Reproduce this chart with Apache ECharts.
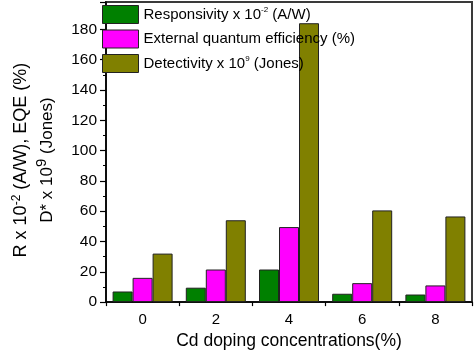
<!DOCTYPE html>
<html>
<head>
<meta charset="utf-8">
<script src="https://cdn.jsdelivr.net/npm/echarts@6/dist/echarts.min.js"></script>
<style>
html,body{margin:0;padding:0;background:#fff;}
#c{width:474px;height:355px;}
</style>
</head>
<body>
<div id="c"></div>
<script>
var categories = ['0', '2', '4', '6', '8'];
var responsivity = [7, 9.5, 21.5, 5.5, 5];
var eqe = [16, 21.5, 49.5, 12.5, 11];
var detectivity = [32, 54, 184, 60.5, 56.5];
var seriesNames = ['Responsivity x 10-2 (A/W)', 'External quantum efficiency (%)', 'Detectivity x 109 (Jones)'];
var legendLabels = [
  '{t|Responsivity x 10}{s|-2}{t| (A/W)}',
  '{t|External quantum efficiency (%)}',
  '{t|Detectivity x 10}{s|9}{t| (Jones)}'
];
var yTickStep = 20;
var yMax = 198;

var FONT = '"Liberation Sans", Arial, sans-serif';
var chart = echarts.init(document.getElementById('c'), null, {renderer: 'canvas'});
var colors = ['#008000', '#ff00ff', '#808000'];
var values = [responsivity, eqe, detectivity];

chart.setOption({
  animation: false,
  backgroundColor: '#fff',
  textStyle: {fontFamily: FONT},
  grid: {left: 98, right: 2, top: 2, bottom: 48, show: true, borderColor: '#3a3a3a', borderWidth: 2, backgroundColor: 'transparent'},
  legend: {
    orient: 'vertical', left: 102, top: 5, padding: 0,
    itemWidth: 36, itemHeight: 18, itemGap: 5.5, icon: 'rect',
    data: seriesNames,
    itemStyle: {borderColor: '#222', borderWidth: 1},
    formatter: function (n) { return legendLabels[seriesNames.indexOf(n)]; },
    textStyle: {
      fontFamily: FONT, color: '#000',
      rich: {
        t: {fontSize: 15, fontFamily: FONT, color: '#000'},
        s: {fontSize: 8, fontFamily: FONT, color: '#000', padding: [0, 0, 9, 0]}
      }
    }
  },
  xAxis: [{
    type: 'category', data: categories,
    name: 'Cd doping concentrations(%)', nameLocation: 'middle', nameGap: 26,
    nameTextStyle: {fontSize: 17.5, color: '#000', fontFamily: FONT},
    axisLine: {lineStyle: {color: '#000', width: 1.5}},
    axisTick: {alignWithLabel: true, length: 5, lineStyle: {color: '#000', width: 1.2}},
    axisLabel: {fontSize: 15, color: '#000', margin: 10, fontFamily: FONT},
    splitLine: {show: false}
  }, {
    type: 'category', data: categories, position: 'bottom',
    axisLine: {show: false},
    axisTick: {show: true, length: 4, lineStyle: {color: '#000', width: 1.2}},
    axisLabel: {show: false},
    splitLine: {show: false}
  }],
  yAxis: {
    type: 'value', min: 0, max: yMax, interval: yTickStep,
    name: '{a|R x 10}{sa|-2}{a| (A/W), EQE (%)}\n{b|D* x 10}{sb|9}{b| (Jones)}',
    nameLocation: 'middle', nameRotate: 90, nameGap: 46,
    nameTextStyle: {
      color: '#000', fontFamily: FONT, lineHeight: 26, padding: [0, 16, 0, 0],
      rich: {
        a: {fontSize: 18, fontFamily: FONT, color: '#000', lineHeight: 26},
        sa: {fontSize: 12, fontFamily: FONT, color: '#000', padding: [0, 0, 9, 0]},
        b: {fontSize: 17, fontFamily: FONT, color: '#000', lineHeight: 26},
        sb: {fontSize: 15, fontFamily: FONT, color: '#000', padding: [0, 0, 10, 0]}
      }
    },
    axisLine: {show: true, lineStyle: {color: '#000', width: 1.5}},
    axisTick: {show: true, length: 6, lineStyle: {color: '#000', width: 1.2}},
    minorTick: {show: true, splitNumber: 2, length: 3, lineStyle: {color: '#000', width: 1}},
    axisLabel: {fontSize: 15.5, color: '#000', margin: 9, showMaxLabel: false, fontFamily: FONT},
    splitLine: {show: false},
    minorSplitLine: {show: false}
  },
  series: seriesNames.map(function (n, i) {
    return {
      name: n, type: 'bar', data: values[i], barWidth: 20, barGap: '0%',
      itemStyle: {color: colors[i], borderColor: '#222', borderWidth: 1}
    };
  })
});
</script>
</body>
</html>
